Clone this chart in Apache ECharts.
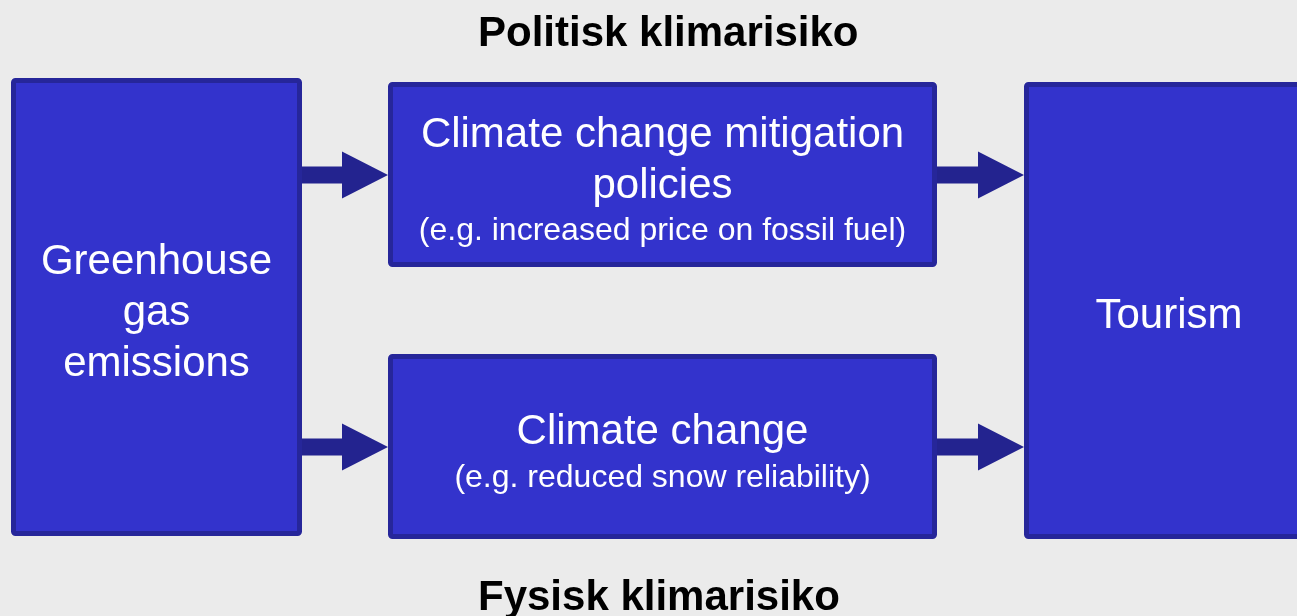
<!DOCTYPE html>
<html>
<head>
<meta charset="utf-8">
<script src="https://cdn.jsdelivr.net/npm/echarts@6/dist/echarts.min.js"></script>
<style>
  html, body { margin: 0; padding: 0; background: #ebebeb; }
  #chart { width: 1297px; height: 616px; }
</style>
</head>
<body>
<div id="chart"></div>
<script>
// boxes of the diagram (page units, y goes down)
var boxLines = [
  ['Greenhouse', 'gas', 'emissions'],
  ['Climate change mitigation', 'policies'],
  ['Climate change'],
  ['Tourism']
];
var boxNotes = ['', '(e.g. increased price on fossil fuel)', '(e.g. reduced snow reliability)', ''];
var boxLeft = [11, 388, 388, 1024];
var boxRight = [302, 937, 937, 1314];
var boxTop = [78, 82, 354, 82];
var boxBottom = [536, 267, 539, 539];

// arrows: from box -> to box, at height
var arrowFrom = [0, 0, 1, 2];
var arrowTo = [1, 2, 3, 3];
var arrowY = [175, 447, 175, 447];

var titleTop = 'Politisk klimarisiko';
var titleBottom = 'Fysisk klimarisiko';

var boxData = boxLeft.map(function (l, i) {
  return [l, boxTop[i], boxRight[i], boxBottom[i]];
});
var arrowData = arrowFrom.map(function (f, i) {
  return [boxRight[f], boxLeft[arrowTo[i]], arrowY[i]];
});

var myChart = echarts.init(document.getElementById('chart'));

var option = {
  backgroundColor: '#ebebeb',
  animation: false,
  grid: { left: 0, right: 0, top: 0, bottom: 0 },
  xAxis: { type: 'value', min: 0, max: 1297, show: false },
  yAxis: { type: 'value', min: 0, max: 616, inverse: true, show: false },
  graphic: [
    {
      type: 'text', left: 478, top: 13,
      style: { text: titleTop, fill: '#000',
        font: 'bold 42px "Liberation Sans", Arial, sans-serif' }
    },
    {
      type: 'text', left: 478, top: 577,
      style: { text: titleBottom, fill: '#000',
        font: 'bold 42px "Liberation Sans", Arial, sans-serif' }
    }
  ],
  series: [
    {
      type: 'custom',
      data: boxData,
      silent: true,
      renderItem: function (params, api) {
        var i = params.dataIndex;
        var p0 = api.coord([api.value(0), api.value(1)]);
        var p1 = api.coord([api.value(2), api.value(3)]);
        var txt = boxLines[i].map(function (s) { return '{m|' + s + '}'; }).join('\n');
        if (boxNotes[i]) txt += '\n{s|' + boxNotes[i] + '}';
        return {
          type: 'rect',
          shape: { x: p0[0] + 2.5, y: p0[1] + 2.5, width: p1[0] - p0[0] - 5, height: p1[1] - p0[1] - 5, r: 2 },
          style: { fill: '#3333cc', stroke: '#26269a', lineWidth: 5 },
          textContent: {
            style: {
              text: txt,
              align: 'center',
              verticalAlign: 'middle',
              fill: '#fff',
              rich: {
                m: { fontSize: 42, lineHeight: 51, fontFamily: '"Liberation Sans", Arial, sans-serif', fill: '#fff', align: 'center' },
                s: { fontSize: 32, lineHeight: 40, fontFamily: '"Liberation Sans", Arial, sans-serif', fill: '#fff', align: 'center' }
              }
            }
          },
          textConfig: { position: 'inside', offset: [0, 6] }
        };
      }
    },
    {
      type: 'custom',
      data: arrowData,
      silent: true,
      renderItem: function (params, api) {
        var a = api.coord([api.value(0), api.value(2)]);
        var b = api.coord([api.value(1), api.value(2)]);
        var head = 46, shaft = 8.5, wing = 23.5;
        return {
          type: 'polygon',
          shape: {
            points: [
              [a[0], a[1] - shaft], [b[0] - head, a[1] - shaft], [b[0] - head, a[1] - wing],
              [b[0], a[1]], [b[0] - head, a[1] + wing], [b[0] - head, a[1] + shaft], [a[0], a[1] + shaft]
            ]
          },
          style: { fill: '#23238f' }
        };
      }
    }
  ]
};

myChart.setOption(option);
</script>
</body>
</html>
